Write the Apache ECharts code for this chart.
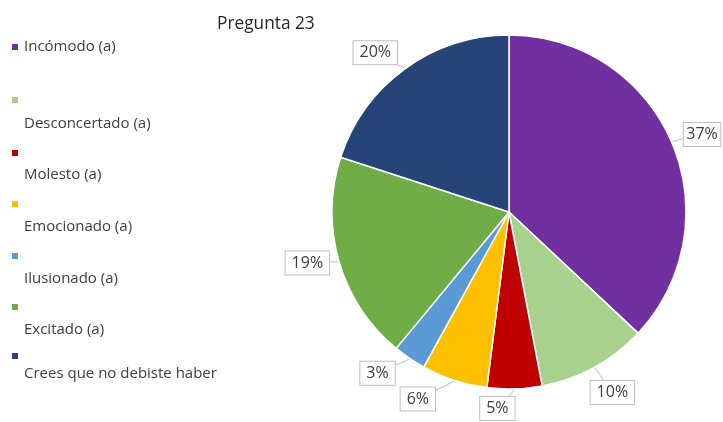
<!DOCTYPE html>
<html><head><meta charset="utf-8">
<script src="https://cdn.jsdelivr.net/npm/echarts@6/dist/echarts.min.js"></script>
<style>html,body{margin:0;padding:0;background:#fff}#c{width:723px;height:422px}</style>
</head><body><div id="c"></div>
<script>
const categories = ['Incómodo (a)','Desconcertado (a)','Molesto (a)','Emocionado (a)','Ilusionado (a)','Excitado (a)','Crees que no debiste haber'];
const values = [37,10,5,6,3,19,20];
const colors = ['#7030A0','#A9D18E','#C00000','#FFC000','#5B9BD5','#70AD47','#264478'];
const title = 'Pregunta 23';

// layout helpers (not data)
const legendMarkerY = [47,100,153,204,256,307,356];
const legendTextOffset = [0,24,22,23,23,23,18];
const labelAngleShift = [1.5,-1,5,8,5,2,-4];   // degrees, callout nudges
const CX = 509, CY = 212, R = 177, LABEL_DIST = 208;

const FONT = '"Open Sans", "Noto Sans", sans-serif';
const legends = categories.map((name,i)=>{
  const off = legendTextOffset[i];
  const L = off ? off*2 : 18;
  return {
    data:[name], left:10, top: legendMarkerY[i] - (off ? L : 9), padding:0,
    itemWidth:8, itemHeight:8, icon:'rect', selectedMode:false,
    formatter: off ? ('\n'+name) : name,
    textStyle:{fontFamily:FONT, fontSize:15, color:'#404040', lineHeight:L}
  };
});

const total = values.reduce((a,b)=>a+b,0);
const midAngles = [];
{ let acc = 0; values.forEach(v=>{ midAngles.push((acc + v/2)/total*360); acc += v; }); }

const chart = echarts.init(document.getElementById('c'));
chart.setOption({
  backgroundColor:'#fff',
  animation:false,
  title:{text:title, left:212, top:11, textStyle:{fontFamily:FONT, fontSize:17.3, fontWeight:'normal', color:'#262626'}},
  legend: legends,
  series:[{
    type:'pie', center:[CX,CY], radius:R, startAngle:90, clockwise:true,
    data: categories.map((n,i)=>({name:n, value:values[i], itemStyle:{color:colors[i]}})),
    itemStyle:{borderColor:'#fff', borderWidth:1.5},
    label:{show:true, position:'outside', formatter:p=>p.value+'%', overflow:'none',
      fontFamily:FONT, fontSize:16, lineHeight:18, color:'#404040',
      backgroundColor:'#fff', borderColor:'#BFBFBF', borderWidth:1, padding:[3,6,2,6]},
    labelLine:{show:true, length:0, length2:0, lineStyle:{color:'#BFBFBF', width:1}},
    labelLayout: function(params){
      const i = params.dataIndex;
      const w = params.labelRect.width, h = params.labelRect.height;
      const a = (midAngles[i] + labelAngleShift[i]) * Math.PI/180;
      let x = CX + LABEL_DIST*Math.sin(a);
      let y = CY - LABEL_DIST*Math.cos(a);
      x = Math.min(x, 723 - w/2 - 1);
      y = Math.min(y, 422 - h/2 - 1);
      const m = midAngles[i]*Math.PI/180;
      const ex = CX + (R+1)*Math.sin(m), ey = CY - (R+1)*Math.cos(m);
      const dx = ex - x, dy = ey - y;
      const t = Math.min(dx ? (w/2)/Math.abs(dx) : Infinity, dy ? (h/2)/Math.abs(dy) : Infinity);
      const bx = x + dx*t, by = y + dy*t;
      return {x:x, y:y, align:'center', verticalAlign:'middle', labelLinePoints:[[ex,ey],[bx,by],[bx,by]]};
    },
    emphasis:{disabled:true}
  }]
});
</script></body></html>
